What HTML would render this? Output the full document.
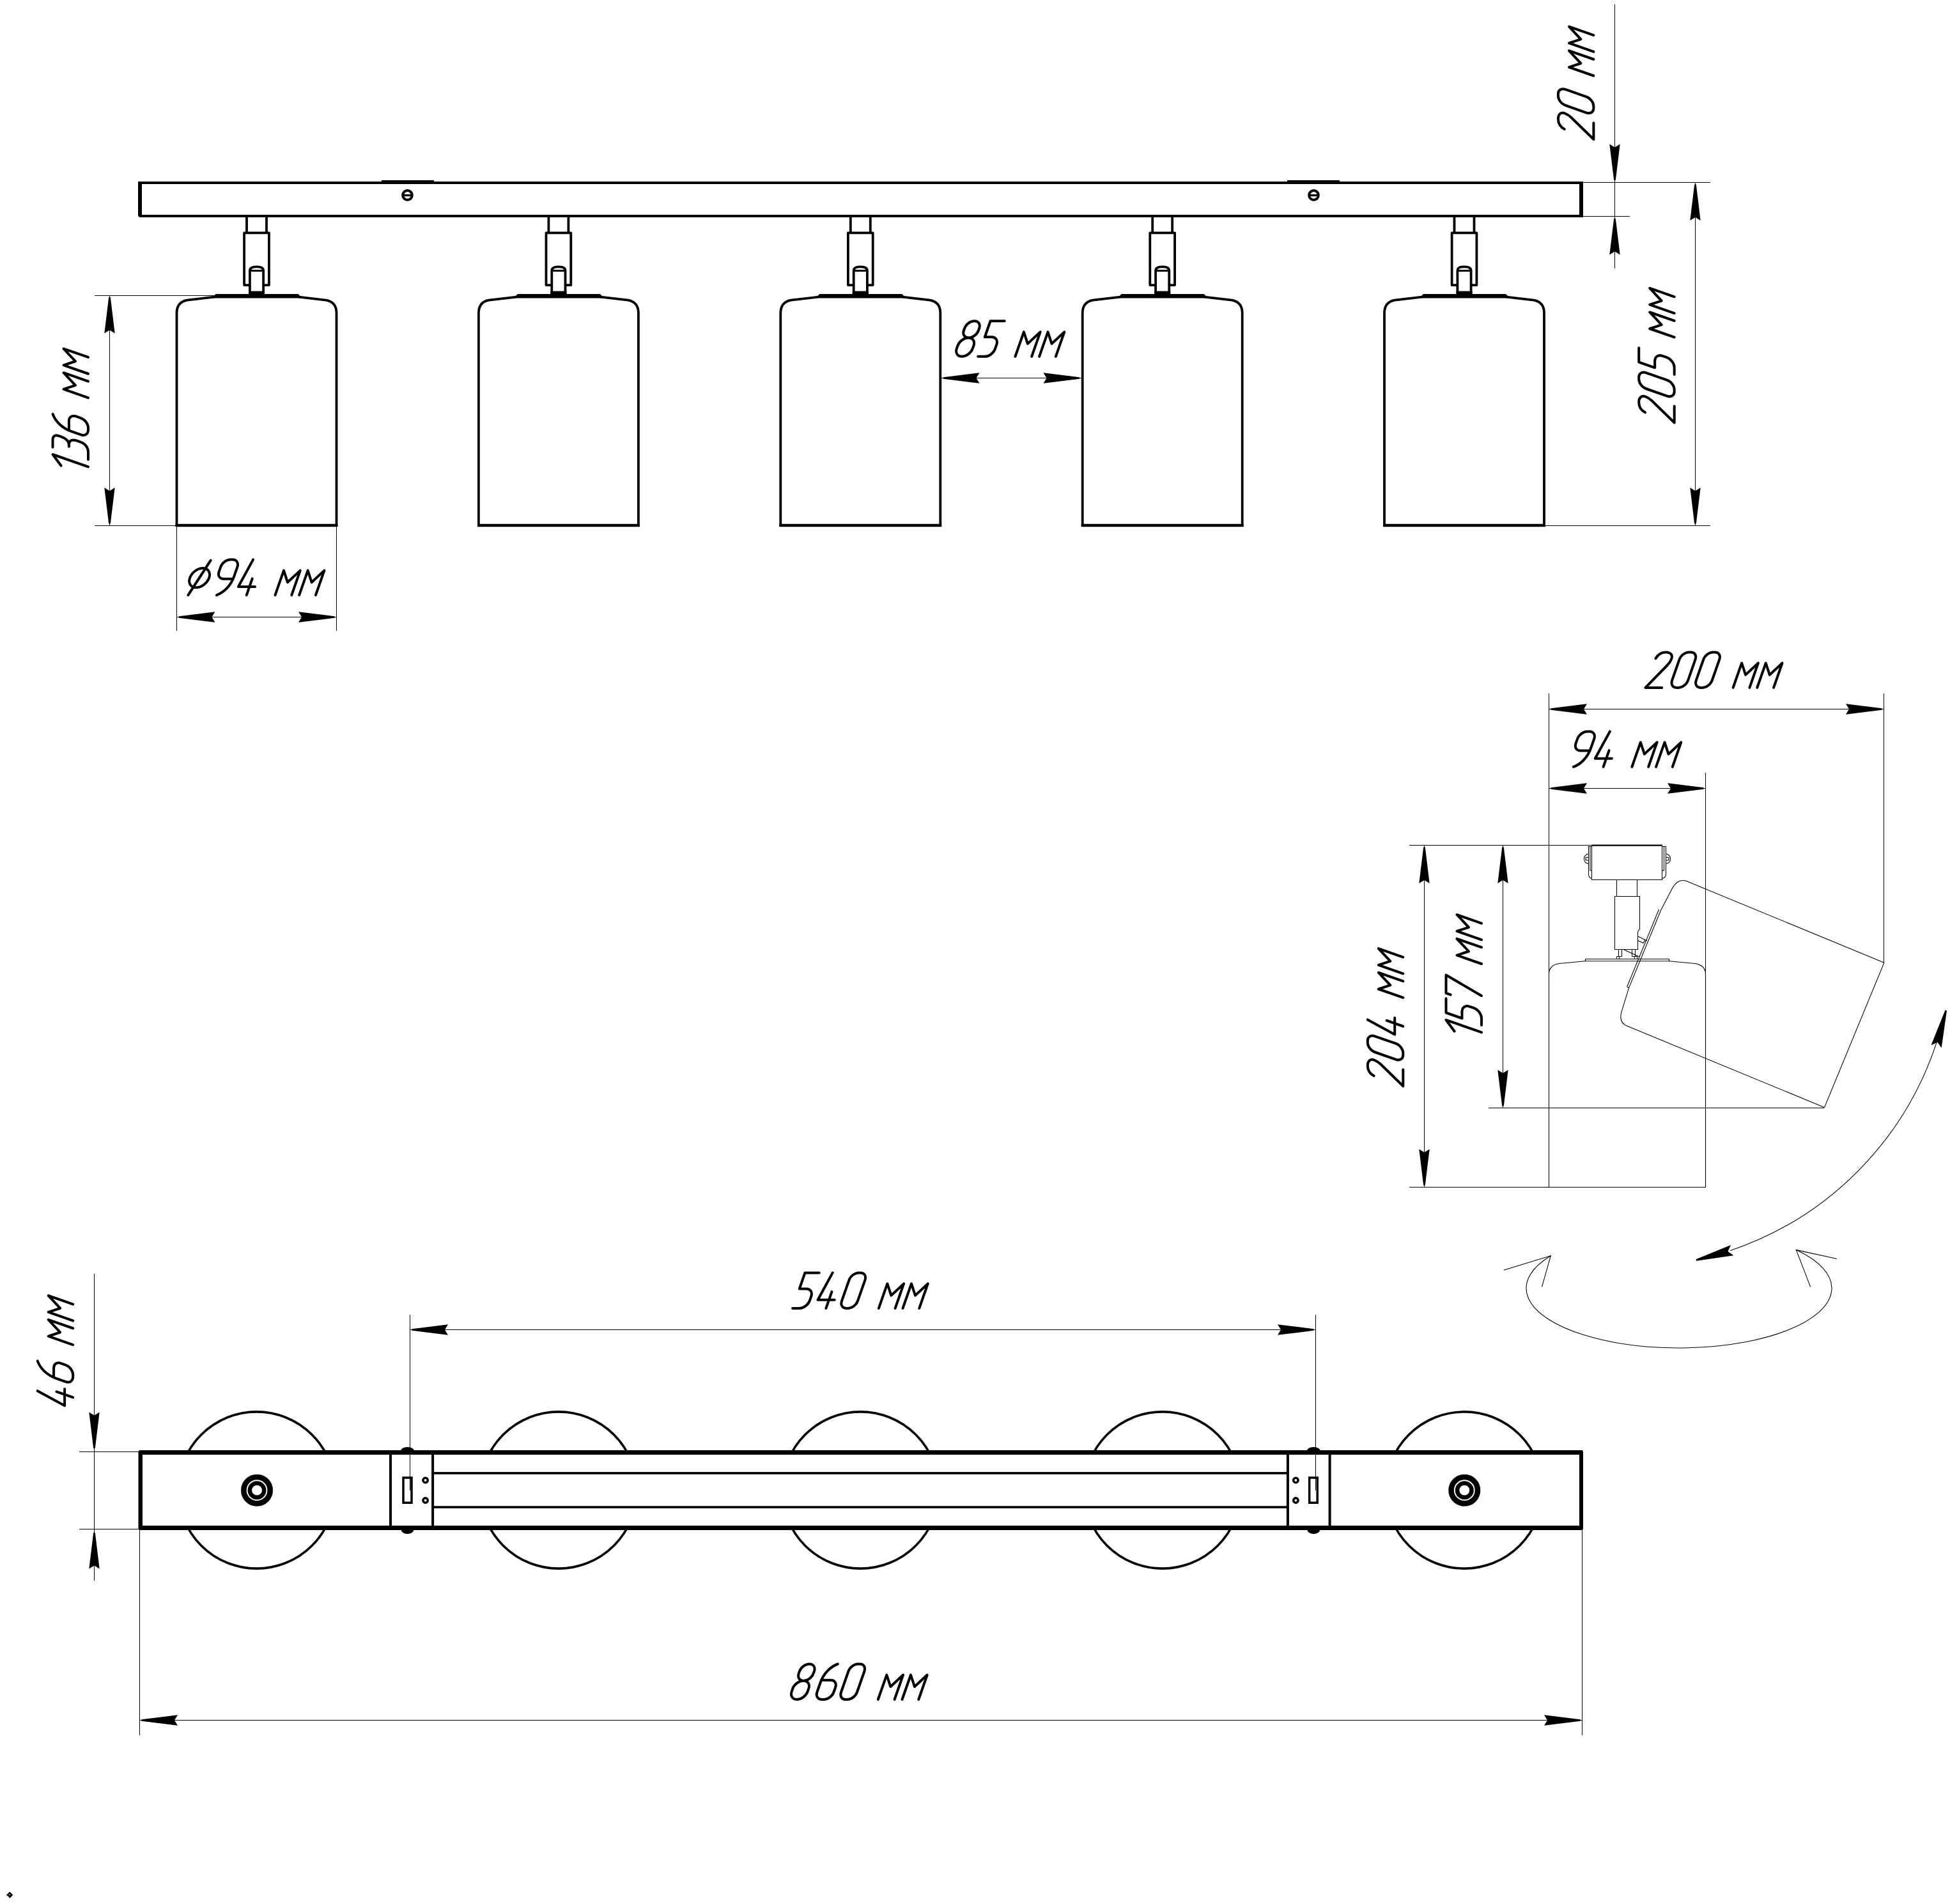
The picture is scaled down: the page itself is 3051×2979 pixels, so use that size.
<!DOCTYPE html>
<html><head><meta charset="utf-8"><title>Drawing</title>
<style>
html,body{margin:0;padding:0;background:#fff;font-family:"Liberation Sans",sans-serif}
svg{display:block}
.t path{fill:none;stroke:#000;stroke-width:4.0;stroke-linecap:round;stroke-linejoin:round;vector-effect:non-scaling-stroke}
</style></head><body>
<svg width="3051" height="2979" viewBox="0 0 3051 2979">
<title>Spot light rail, 5 lamps - dimensional drawing</title><desc>Dimensions: 860 mm, 540 mm, 46 mm, 20 mm, 205 mm, 136 mm, diameter 94 mm, 85 mm, 200 mm, 94 mm, 204 mm, 157 mm</desc>
<rect width="100%" height="100%" fill="#fff"/>
<g fill="#000">
<rect x="216" y="284" width="2261" height="4"/>
<rect x="220" y="336" width="2257" height="4"/>
<path d="M216,284H222V340H220Q216,340 216,336Z"/>
<path d="M2471,284H2477V337Q2477,340 2474,340H2471Z"/>
<rect x="597" y="282" width="82" height="3"/>
<rect x="2014" y="282" width="82" height="3"/>
</g>
<circle cx="637.5" cy="305.4" r="7.3" fill="#fff" stroke="#000" stroke-width="4"/>
<rect x="631.5" y="304" width="12" height="3.2" fill="#000"/>
<circle cx="2055.5" cy="305.4" r="7.3" fill="#fff" stroke="#000" stroke-width="4"/>
<rect x="2049.5" y="304" width="12" height="3.2" fill="#000"/>
<g transform="translate(401.5,0)" fill="none" stroke="#000" stroke-width="3.8">
<path d="M-15.5,340V364M15.5,340V364"/>
<path d="M-10.6,446.1H-19.4V364.3H19.4V446.1H10.6" stroke-linejoin="round"/>
<path d="M-10.6,460V423.5Q-10.6,417.3 0,417.3Q10.6,417.3 10.6,423.5V460" fill="#fff"/>
<path d="M-10.6,423.6H10.6" stroke-width="3"/>
<rect x="-12.5" y="455.5" width="25" height="6" fill="#000" stroke="none"/>
<path d="M-64,460H65L68,463V466.4H-67V463Z" fill="#000" stroke="none"/>
<path d="M-66,464.6L-109,469.6C-119,471.5 -125,478 -125,490V822H125V490C125,478 119,471.5 109,469.6L66,464.6" stroke-linejoin="miter"/>
<path d="M-126.9,822H126.9" stroke-width="4.4"/>
</g>
<g transform="translate(873.9,0)" fill="none" stroke="#000" stroke-width="3.8">
<path d="M-15.5,340V364M15.5,340V364"/>
<path d="M-10.6,446.1H-19.4V364.3H19.4V446.1H10.6" stroke-linejoin="round"/>
<path d="M-10.6,460V423.5Q-10.6,417.3 0,417.3Q10.6,417.3 10.6,423.5V460" fill="#fff"/>
<path d="M-10.6,423.6H10.6" stroke-width="3"/>
<rect x="-12.5" y="455.5" width="25" height="6" fill="#000" stroke="none"/>
<path d="M-64,460H65L68,463V466.4H-67V463Z" fill="#000" stroke="none"/>
<path d="M-66,464.6L-109,469.6C-119,471.5 -125,478 -125,490V822H125V490C125,478 119,471.5 109,469.6L66,464.6" stroke-linejoin="miter"/>
<path d="M-126.9,822H126.9" stroke-width="4.4"/>
</g>
<g transform="translate(1346.3,0)" fill="none" stroke="#000" stroke-width="3.8">
<path d="M-15.5,340V364M15.5,340V364"/>
<path d="M-10.6,446.1H-19.4V364.3H19.4V446.1H10.6" stroke-linejoin="round"/>
<path d="M-10.6,460V423.5Q-10.6,417.3 0,417.3Q10.6,417.3 10.6,423.5V460" fill="#fff"/>
<path d="M-10.6,423.6H10.6" stroke-width="3"/>
<rect x="-12.5" y="455.5" width="25" height="6" fill="#000" stroke="none"/>
<path d="M-64,460H65L68,463V466.4H-67V463Z" fill="#000" stroke="none"/>
<path d="M-66,464.6L-109,469.6C-119,471.5 -125,478 -125,490V822H125V490C125,478 119,471.5 109,469.6L66,464.6" stroke-linejoin="miter"/>
<path d="M-126.9,822H126.9" stroke-width="4.4"/>
</g>
<g transform="translate(1818.7,0)" fill="none" stroke="#000" stroke-width="3.8">
<path d="M-15.5,340V364M15.5,340V364"/>
<path d="M-10.6,446.1H-19.4V364.3H19.4V446.1H10.6" stroke-linejoin="round"/>
<path d="M-10.6,460V423.5Q-10.6,417.3 0,417.3Q10.6,417.3 10.6,423.5V460" fill="#fff"/>
<path d="M-10.6,423.6H10.6" stroke-width="3"/>
<rect x="-12.5" y="455.5" width="25" height="6" fill="#000" stroke="none"/>
<path d="M-64,460H65L68,463V466.4H-67V463Z" fill="#000" stroke="none"/>
<path d="M-66,464.6L-109,469.6C-119,471.5 -125,478 -125,490V822H125V490C125,478 119,471.5 109,469.6L66,464.6" stroke-linejoin="miter"/>
<path d="M-126.9,822H126.9" stroke-width="4.4"/>
</g>
<g transform="translate(2291.0,0)" fill="none" stroke="#000" stroke-width="3.8">
<path d="M-15.5,340V364M15.5,340V364"/>
<path d="M-10.6,446.1H-19.4V364.3H19.4V446.1H10.6" stroke-linejoin="round"/>
<path d="M-10.6,460V423.5Q-10.6,417.3 0,417.3Q10.6,417.3 10.6,423.5V460" fill="#fff"/>
<path d="M-10.6,423.6H10.6" stroke-width="3"/>
<rect x="-12.5" y="455.5" width="25" height="6" fill="#000" stroke="none"/>
<path d="M-64,460H65L68,463V466.4H-67V463Z" fill="#000" stroke="none"/>
<path d="M-66,464.6L-109,469.6C-119,471.5 -125,478 -125,490V822H125V490C125,478 119,471.5 109,469.6L66,464.6" stroke-linejoin="miter"/>
<path d="M-126.9,822H126.9" stroke-width="4.4"/>
</g>
<g fill="#000">
<rect x="148" y="462" width="188" height="1"/>
<rect x="148" y="822" width="128" height="1"/>
<rect x="171" y="462" width="1" height="360"/>
<path transform="translate(171.5,462.0) rotate(-90)" d="M-3,-1.3L-3,1.3L-59.5,8.2L-54.4,0L-59.5,-8.2Z"/>
<path transform="translate(171.5,822.5) rotate(90)" d="M-3,-1.3L-3,1.3L-59.5,8.2L-54.4,0L-59.5,-8.2Z"/>
<rect x="276" y="824" width="1" height="163"/>
<rect x="526" y="824" width="1" height="163"/>
<rect x="277" y="965" width="250" height="1"/>
<path transform="translate(277.0,965.5) rotate(180)" d="M-3,-1.3L-3,1.3L-59.5,8.2L-54.4,0L-59.5,-8.2Z"/>
<path transform="translate(526.5,965.5) rotate(0)" d="M-3,-1.3L-3,1.3L-59.5,8.2L-54.4,0L-59.5,-8.2Z"/>
<rect x="1473" y="591" width="219" height="1"/>
<path transform="translate(1473.0,591.5) rotate(180)" d="M-3,-1.3L-3,1.3L-59.5,8.2L-54.4,0L-59.5,-8.2Z"/>
<path transform="translate(1692.0,591.5) rotate(0)" d="M-3,-1.3L-3,1.3L-59.5,8.2L-54.4,0L-59.5,-8.2Z"/>
<rect x="2526" y="7" width="1" height="413"/>
<rect x="2477" y="285" width="199" height="1"/>
<rect x="2477" y="338" width="73" height="1"/>
<path transform="translate(2526.5,285.0) rotate(90)" d="M-3,-1.3L-3,1.3L-59.5,8.2L-54.4,0L-59.5,-8.2Z"/>
<path transform="translate(2526.5,339.0) rotate(-90)" d="M-3,-1.3L-3,1.3L-59.5,8.2L-54.4,0L-59.5,-8.2Z"/>
<rect x="2652" y="285" width="1" height="537"/>
<rect x="2418" y="822" width="258" height="1"/>
<path transform="translate(2652.5,285.5) rotate(-90)" d="M-3,-1.3L-3,1.3L-59.5,8.2L-54.4,0L-59.5,-8.2Z"/>
<path transform="translate(2652.5,822.5) rotate(90)" d="M-3,-1.3L-3,1.3L-59.5,8.2L-54.4,0L-59.5,-8.2Z"/>
</g>
<g fill="#000">
<rect x="2423" y="1085" width="1" height="773"/>
<rect x="2947" y="1085" width="1" height="422"/>
<rect x="2423" y="1109" width="525" height="1"/>
<path transform="translate(2423.5,1109.5) rotate(180)" d="M-3,-1.3L-3,1.3L-59.5,8.2L-54.4,0L-59.5,-8.2Z"/>
<path transform="translate(2947.5,1109.5) rotate(0)" d="M-3,-1.3L-3,1.3L-59.5,8.2L-54.4,0L-59.5,-8.2Z"/>
<rect x="2668" y="1209" width="1" height="649"/>
<rect x="2423" y="1233" width="246" height="1"/>
<path transform="translate(2423.5,1233.5) rotate(180)" d="M-3,-1.3L-3,1.3L-59.5,8.2L-54.4,0L-59.5,-8.2Z"/>
<path transform="translate(2668.5,1233.5) rotate(0)" d="M-3,-1.3L-3,1.3L-59.5,8.2L-54.4,0L-59.5,-8.2Z"/>
<rect x="2205" y="1322" width="395" height="1"/>
<rect x="2228" y="1322" width="1" height="536"/>
<path transform="translate(2228.5,1322.5) rotate(-90)" d="M-3,-1.3L-3,1.3L-59.5,8.2L-54.4,0L-59.5,-8.2Z"/>
<path transform="translate(2228.5,1857.5) rotate(90)" d="M-3,-1.3L-3,1.3L-59.5,8.2L-54.4,0L-59.5,-8.2Z"/>
<rect x="2351" y="1322" width="1" height="411"/>
<path transform="translate(2351.5,1322.5) rotate(-90)" d="M-3,-1.3L-3,1.3L-59.5,8.2L-54.4,0L-59.5,-8.2Z"/>
<path transform="translate(2351.5,1733.5) rotate(90)" d="M-3,-1.3L-3,1.3L-59.5,8.2L-54.4,0L-59.5,-8.2Z"/>
<rect x="2329" y="1733" width="525" height="1"/>
<rect x="2205" y="1857" width="464" height="1"/>
</g>
<g fill="none" stroke="#000" stroke-width="1.08">
<path d="M2490.5,1323H2600.5V1376.5H2490.5Z"/><path d="M2490.5,1322.5H2600.5" stroke-width="1.8"/>
<path d="M2490.5,1324.5H2485.5V1368Q2485.5,1373 2490.5,1374.5M2488,1324.5V1362H2490.5"/>
<path d="M2600.5,1324.5H2606.5V1368Q2606.5,1373 2600.5,1374.5M2603.5,1324.5V1362H2600.5"/>
<path d="M2485.5,1336A7,7.7 0 0 0 2485.5,1351.5M2481,1341.5H2485.5M2481,1346H2485.5M2481,1341.5V1346"/>
<path d="M2606.5,1336A7,7.7 0 0 1 2606.5,1351.5M2611,1341.5H2606.5M2611,1346H2606.5M2611,1341.5V1346"/>
<path d="M2529.5,1376.5V1402.5M2561.5,1376.5V1402.5"/>
<path d="M2526.5,1402.5H2565.5V1453L2562.5,1458V1485.5H2526.5Z"/>
<path d="M2562.5,1465L2574,1470.5M2562.5,1471.5L2571,1475.5L2574,1470.5L2577,1472"/>
<path d="M2532.5,1485.5V1496.5M2537.5,1485.5V1496.5M2529.5,1496.5H2537.5M2529.5,1496.5V1500.5M2533.5,1496.5V1500.5"/>
<path d="M2553.5,1485.5V1496.5M2558.5,1485.5V1496.5M2553.5,1496.5H2562M2557.5,1496.5V1500.5M2561.5,1496.5V1500.5M2541,1486L2565,1497"/>
<path d="M2480.5,1500.5H2611.5V1503.8H2480.5Z"/>
<path transform="translate(2545.7,1502)" d="M-122.2,356V22C-122.2,12 -116,7 -105.7,5.5L-65.6,1.8M65.6,1.8L105.7,5.5C116,7 122.8,12 122.8,22V356"/>
<g transform="translate(2572,1484) rotate(-67.6)"><path d="M-122.2,356V22C-122.2,12 -116,7 -105.7,5.5L-65.6,1.8M65.6,1.8L105.7,5.5C116,7 122.8,12 122.8,22V356 M-65.6,1.8H65.6 M122.8,356H-122.2 M-65.6,-1.5H65.6 M-65.6,-1.5V1.8"/></g>
<path d="M3030.1,1630.9A511.6,511.6 0 0 1 2707.2,1956.7"/>
<path d="M2426.3,1964.8A239,93.4 0 1 0 2810.3,1955.6"/>
<path d="M2352.8,1987.2L2426.3,1964.8L2412.5,2013.4M2873.9,1969.5L2810.3,1955.6L2832.6,2013.4"/>
</g>
<g fill="#000">
<path transform="translate(3045.5,1578.0) rotate(-75)" d="M-3,-1.3L-3,1.3L-61.5,8.4L-54.5,0L-61.5,-8.4Z"/>
<path transform="translate(2651.0,1972.4) rotate(164.6)" d="M-3,-1.3L-3,1.3L-61.5,8.4L-54.5,0L-61.5,-8.4Z"/>
</g>
<circle cx="401.5" cy="2331.5" r="122.6" fill="none" stroke="#000" stroke-width="3.6"/>
<circle cx="873.9" cy="2331.5" r="122.6" fill="none" stroke="#000" stroke-width="3.6"/>
<circle cx="1346.3" cy="2331.5" r="122.6" fill="none" stroke="#000" stroke-width="3.6"/>
<circle cx="1818.7" cy="2331.5" r="122.6" fill="none" stroke="#000" stroke-width="3.6"/>
<circle cx="2291.0" cy="2331.5" r="122.6" fill="none" stroke="#000" stroke-width="3.6"/>
<rect x="219" y="2272" width="2255" height="119" fill="#fff"/>
<g fill="#000">
<rect x="218" y="2269" width="2258" height="7"/>
<rect x="218" y="2387" width="2258" height="7"/>
<path d="M216.5,2272Q216.5,2269 220,2269H223V2394H220Q216.5,2394 216.5,2391Z"/>
<path d="M2471,2269H2474Q2477,2269 2477,2272V2391Q2477,2394 2474,2394H2471Z"/>
<rect x="609" y="2272" width="4" height="119"/>
<rect x="675.1" y="2272" width="4" height="119"/>
<rect x="2012.9" y="2272" width="4" height="119"/>
<rect x="2078.6" y="2272" width="4" height="119"/>
<rect x="677" y="2303.1" width="1338" height="3.6"/>
<rect x="677" y="2356.3" width="1338" height="3.6"/>
<path d="M627.0,2270A10.5,6 0 0 1 648.0,2270Z"/>
<path d="M627.5,2393A10,7 0 0 0 647.5,2393Z"/>
<path d="M2044.8000000000002,2270A10.5,6 0 0 1 2065.8,2270Z"/>
<path d="M2045.3000000000002,2393A10,7 0 0 0 2065.3,2393Z"/>
</g>
<g fill="none" stroke="#000" stroke-width="3.5">
<rect x="631" y="2312" width="13" height="39.2"/>
<rect x="2048.7" y="2312" width="12.5" height="39.2"/>
<circle cx="665.6" cy="2316" r="3.7"/>
<circle cx="665.6" cy="2347.5" r="3.7"/>
<circle cx="2027.4" cy="2316" r="3.7"/>
<circle cx="2027.4" cy="2347.5" r="3.7"/>
<circle cx="402" cy="2331.7" r="20.7" stroke-width="8.6"/>
<circle cx="402" cy="2331.7" r="11.2" stroke-width="6.6"/>
<circle cx="2291.3" cy="2331.7" r="20.7" stroke-width="8.6"/>
<circle cx="2291.3" cy="2331.7" r="11.2" stroke-width="6.6"/>
</g>
<g fill="#000">
<rect x="147" y="1993" width="1" height="480"/>
<rect x="124" y="2271" width="94" height="1"/>
<rect x="124" y="2392" width="94" height="1"/>
<path transform="translate(147.5,2269.0) rotate(90)" d="M-3,-1.3L-3,1.3L-59.5,8.2L-54.4,0L-59.5,-8.2Z"/>
<path transform="translate(147.5,2395.0) rotate(-90)" d="M-3,-1.3L-3,1.3L-59.5,8.2L-54.4,0L-59.5,-8.2Z"/>
<rect x="641" y="2057" width="1" height="275"/>
<rect x="2058" y="2057" width="1" height="275"/>
<rect x="641" y="2080" width="1418" height="1"/>
<path transform="translate(641.5,2080.5) rotate(180)" d="M-3,-1.3L-3,1.3L-59.5,8.2L-54.4,0L-59.5,-8.2Z"/>
<path transform="translate(2058.5,2080.5) rotate(0)" d="M-3,-1.3L-3,1.3L-59.5,8.2L-54.4,0L-59.5,-8.2Z"/>
<rect x="218" y="2394" width="1" height="321"/>
<rect x="2475" y="2394" width="1" height="321"/>
<rect x="218" y="2691" width="2258" height="1"/>
<path transform="translate(218.5,2691.5) rotate(180)" d="M-3,-1.3L-3,1.3L-59.5,8.2L-54.4,0L-59.5,-8.2Z"/>
<path transform="translate(2475.5,2691.5) rotate(0)" d="M-3,-1.3L-3,1.3L-59.5,8.2L-54.4,0L-59.5,-8.2Z"/>
<path d="M15.2,2959.7L20.3,2964.9L15.2,2970.1L10,2964.9Z" fill="#000"/><path d="M11.5,2966L14.5,2969" stroke="#fff" stroke-width="0.9"/><rect x="14" y="2964.2" width="2.2" height="0.9" fill="#fff"/>
</g>
<g transform="translate(287.6,931.1) matrix(3.964,0,-1.3874,3.964,0,0)" class="t">
<path transform="translate(0.00,0)" d="M0,-6.8A3.8,3.8 0 0 1 7.6,-6.8A3.8,3.8 0 0 1 0,-6.8ZM1.7,0L5.8,-13.7"/>
<path transform="translate(10.65,0)" d="M2.3,0C4.7,-1 6.6,-3.5 6.6,-7.5V-11.1A2.9,2.9 0 0 0 3.7,-14H2.9A2.9,2.9 0 0 0 0,-11.1V-9.2A2.8,2.8 0 0 0 2.8,-6.4H6.6"/>
<path transform="translate(20.15,0)" d="M2.3,-14L0.2,-3.3H6.8M4.6,-6.5V0"/>
<path transform="translate(36.05,0)" d="M0,0V-9.7L3.15,-5.05L6.5,-9.7V0"/>
<path transform="translate(45.55,0)" d="M0,0V-9.7L3.15,-5.05L6.5,-9.7V0"/>
</g>
<g transform="translate(1492.5,557.8) matrix(3.964,0,-1.3874,3.964,0,0)" class="t">
<path transform="translate(0.00,0)" d="M0,-3.2V-4.3A3.15,3.1 0 0 1 6.3,-4.3V-3.2A3.15,3.2 0 0 1 0,-3.2ZM0.3,-10.3V-11.1A2.9,2.9 0 0 1 6.1,-11.1V-10.3A2.9,2.9 0 0 1 0.3,-10.3Z"/>
<path transform="translate(9.50,0)" d="M5.6,-14H0V-7.7H2.7A3,3 0 0 1 5.7,-4.7V-3A3,3 0 0 1 2.7,0H0"/>
<path transform="translate(24.20,0)" d="M0,0V-9.7L3.15,-5.05L6.5,-9.7V0"/>
<path transform="translate(33.70,0)" d="M0,0V-9.7L3.15,-5.05L6.5,-9.7V0"/>
</g>
<g transform="translate(2574.5,1075.9) matrix(3.964,0,-1.3874,3.964,0,0)" class="t">
<path transform="translate(0.00,0)" d="M0,-11.5C0.3,-13.1 1.5,-14 3.2,-14C5,-14 6.3,-12.9 6.3,-11.5C6.3,-10.4 6,-9.6 5.5,-8.8L0,0H6.5"/>
<path transform="translate(9.50,0)" d="M0,-2.9V-11.1A2.75,2.9 0 0 1 2.75,-14H3.55A2.75,2.9 0 0 1 6.3,-11.1V-2.9A2.75,2.9 0 0 1 3.55,0H2.75A2.75,2.9 0 0 1 0,-2.9Z"/>
<path transform="translate(19.00,0)" d="M0,-2.9V-11.1A2.75,2.9 0 0 1 2.75,-14H3.55A2.75,2.9 0 0 1 6.3,-11.1V-2.9A2.75,2.9 0 0 1 3.55,0H2.75A2.75,2.9 0 0 1 0,-2.9Z"/>
<path transform="translate(34.60,0)" d="M0,0V-9.7L3.15,-5.05L6.5,-9.7V0"/>
<path transform="translate(44.10,0)" d="M0,0V-9.7L3.15,-5.05L6.5,-9.7V0"/>
</g>
<g transform="translate(2452.7,1199.9) matrix(3.964,0,-1.3874,3.964,0,0)" class="t">
<path transform="translate(0.00,0)" d="M2.3,0C4.7,-1 6.6,-3.5 6.6,-7.5V-11.1A2.9,2.9 0 0 0 3.7,-14H2.9A2.9,2.9 0 0 0 0,-11.1V-9.2A2.8,2.8 0 0 0 2.8,-6.4H6.6"/>
<path transform="translate(9.50,0)" d="M2.3,-14L0.2,-3.3H6.8M4.6,-6.5V0"/>
<path transform="translate(25.40,0)" d="M0,0V-9.7L3.15,-5.05L6.5,-9.7V0"/>
<path transform="translate(34.90,0)" d="M0,0V-9.7L3.15,-5.05L6.5,-9.7V0"/>
</g>
<g transform="translate(1240.1,2046.9) matrix(3.964,0,-1.3874,3.964,0,0)" class="t">
<path transform="translate(0.00,0)" d="M5.6,-14H0V-7.7H2.7A3,3 0 0 1 5.7,-4.7V-3A3,3 0 0 1 2.7,0H0"/>
<path transform="translate(8.60,0)" d="M2.3,-14L0.2,-3.3H6.8M4.6,-6.5V0"/>
<path transform="translate(18.40,0)" d="M0,-2.9V-11.1A2.75,2.9 0 0 1 2.75,-14H3.55A2.75,2.9 0 0 1 6.3,-11.1V-2.9A2.75,2.9 0 0 1 3.55,0H2.75A2.75,2.9 0 0 1 0,-2.9Z"/>
<path transform="translate(34.00,0)" d="M0,0V-9.7L3.15,-5.05L6.5,-9.7V0"/>
<path transform="translate(43.50,0)" d="M0,0V-9.7L3.15,-5.05L6.5,-9.7V0"/>
</g>
<g transform="translate(1234.3,2659.0) matrix(3.964,0,-1.3874,3.964,0,0)" class="t">
<path transform="translate(0.00,0)" d="M0,-3.2V-4.3A3.15,3.1 0 0 1 6.3,-4.3V-3.2A3.15,3.2 0 0 1 0,-3.2ZM0.3,-10.3V-11.1A2.9,2.9 0 0 1 6.1,-11.1V-10.3A2.9,2.9 0 0 1 0.3,-10.3Z"/>
<path transform="translate(10.10,0)" d="M4.3,-14C1.9,-13 0,-10.5 0,-6.5V-2.9A2.9,2.9 0 0 0 2.9,0H3.7A2.9,2.9 0 0 0 6.6,-2.9V-4.8A2.8,2.8 0 0 0 3.8,-7.6H0"/>
<path transform="translate(19.60,0)" d="M0,-2.9V-11.1A2.75,2.9 0 0 1 2.75,-14H3.55A2.75,2.9 0 0 1 6.3,-11.1V-2.9A2.75,2.9 0 0 1 3.55,0H2.75A2.75,2.9 0 0 1 0,-2.9Z"/>
<path transform="translate(35.20,0)" d="M0,0V-9.7L3.15,-5.05L6.5,-9.7V0"/>
<path transform="translate(44.70,0)" d="M0,0V-9.7L3.15,-5.05L6.5,-9.7V0"/>
</g>
<g transform="translate(2493.4,218.0) rotate(-90) matrix(3.964,0,-1.3874,3.964,0,0)" class="t">
<path transform="translate(0.00,0)" d="M0,-11.5C0.3,-13.1 1.5,-14 3.2,-14C5,-14 6.3,-12.9 6.3,-11.5C6.3,-10.4 6,-9.6 5.5,-8.8L0,0H6.5"/>
<path transform="translate(9.50,0)" d="M0,-2.9V-11.1A2.75,2.9 0 0 1 2.75,-14H3.55A2.75,2.9 0 0 1 6.3,-11.1V-2.9A2.75,2.9 0 0 1 3.55,0H2.75A2.75,2.9 0 0 1 0,-2.9Z"/>
<path transform="translate(25.10,0)" d="M0,0V-9.7L3.15,-5.05L6.5,-9.7V0"/>
<path transform="translate(34.60,0)" d="M0,0V-9.7L3.15,-5.05L6.5,-9.7V0"/>
</g>
<g transform="translate(2619.7,661.3) rotate(-90) matrix(3.964,0,-1.3874,3.964,0,0)" class="t">
<path transform="translate(0.00,0)" d="M0,-11.5C0.3,-13.1 1.5,-14 3.2,-14C5,-14 6.3,-12.9 6.3,-11.5C6.3,-10.4 6,-9.6 5.5,-8.8L0,0H6.5"/>
<path transform="translate(9.50,0)" d="M0,-2.9V-11.1A2.75,2.9 0 0 1 2.75,-14H3.55A2.75,2.9 0 0 1 6.3,-11.1V-2.9A2.75,2.9 0 0 1 3.55,0H2.75A2.75,2.9 0 0 1 0,-2.9Z"/>
<path transform="translate(19.00,0)" d="M5.6,-14H0V-7.7H2.7A3,3 0 0 1 5.7,-4.7V-3A3,3 0 0 1 2.7,0H0"/>
<path transform="translate(33.70,0)" d="M0,0V-9.7L3.15,-5.05L6.5,-9.7V0"/>
<path transform="translate(43.20,0)" d="M0,0V-9.7L3.15,-5.05L6.5,-9.7V0"/>
</g>
<g transform="translate(138.0,743.5) rotate(-90) matrix(3.964,0,-1.3874,3.964,0,0)" class="t">
<path transform="translate(0.00,0)" d="M0,-10.7L3.3,-14V0"/>
<path transform="translate(6.15,0)" d="M0,-14H3C4.5,-14 5.3,-13 5.3,-11.5V-10.3C5.3,-8.8 4.5,-7.6 3.2,-7.6H2.5M3.2,-7.6C5,-7.6 5.9,-6.2 5.9,-4.6V-3C5.9,-1.2 4.8,0 3,0H0"/>
<path transform="translate(14.95,0)" d="M4.3,-14C1.9,-13 0,-10.5 0,-6.5V-2.9A2.9,2.9 0 0 0 2.9,0H3.7A2.9,2.9 0 0 0 6.6,-2.9V-4.8A2.8,2.8 0 0 0 3.8,-7.6H0"/>
<path transform="translate(30.55,0)" d="M0,0V-9.7L3.15,-5.05L6.5,-9.7V0"/>
<path transform="translate(40.05,0)" d="M0,0V-9.7L3.15,-5.05L6.5,-9.7V0"/>
</g>
<g transform="translate(2195.3,1699.3) rotate(-90) matrix(3.964,0,-1.3874,3.964,0,0)" class="t">
<path transform="translate(0.00,0)" d="M0,-11.5C0.3,-13.1 1.5,-14 3.2,-14C5,-14 6.3,-12.9 6.3,-11.5C6.3,-10.4 6,-9.6 5.5,-8.8L0,0H6.5"/>
<path transform="translate(9.50,0)" d="M0,-2.9V-11.1A2.75,2.9 0 0 1 2.75,-14H3.55A2.75,2.9 0 0 1 6.3,-11.1V-2.9A2.75,2.9 0 0 1 3.55,0H2.75A2.75,2.9 0 0 1 0,-2.9Z"/>
<path transform="translate(19.00,0)" d="M2.3,-14L0.2,-3.3H6.8M4.6,-6.5V0"/>
<path transform="translate(34.90,0)" d="M0,0V-9.7L3.15,-5.05L6.5,-9.7V0"/>
<path transform="translate(44.40,0)" d="M0,0V-9.7L3.15,-5.05L6.5,-9.7V0"/>
</g>
<g transform="translate(2318.0,1628.3) rotate(-90) matrix(3.964,0,-1.3874,3.964,0,0)" class="t">
<path transform="translate(0.00,0)" d="M0,-10.7L3.3,-14V0"/>
<path transform="translate(6.15,0)" d="M5.6,-14H0V-7.7H2.7A3,3 0 0 1 5.7,-4.7V-3A3,3 0 0 1 2.7,0H0"/>
<path transform="translate(14.75,0)" d="M-0.9,-12.2V-14H6.3L3,0"/>
<path transform="translate(30.35,0)" d="M0,0V-9.7L3.15,-5.05L6.5,-9.7V0"/>
<path transform="translate(39.85,0)" d="M0,0V-9.7L3.15,-5.05L6.5,-9.7V0"/>
</g>
<g transform="translate(114.2,2204.7) rotate(-90) matrix(3.964,0,-1.3874,3.964,0,0)" class="t">
<path transform="translate(0.00,0)" d="M2.3,-14L0.2,-3.3H6.8M4.6,-6.5V0"/>
<path transform="translate(9.80,0)" d="M4.3,-14C1.9,-13 0,-10.5 0,-6.5V-2.9A2.9,2.9 0 0 0 2.9,0H3.7A2.9,2.9 0 0 0 6.6,-2.9V-4.8A2.8,2.8 0 0 0 3.8,-7.6H0"/>
<path transform="translate(25.40,0)" d="M0,0V-9.7L3.15,-5.05L6.5,-9.7V0"/>
<path transform="translate(34.90,0)" d="M0,0V-9.7L3.15,-5.05L6.5,-9.7V0"/>
</g>
</svg>
</body></html>
